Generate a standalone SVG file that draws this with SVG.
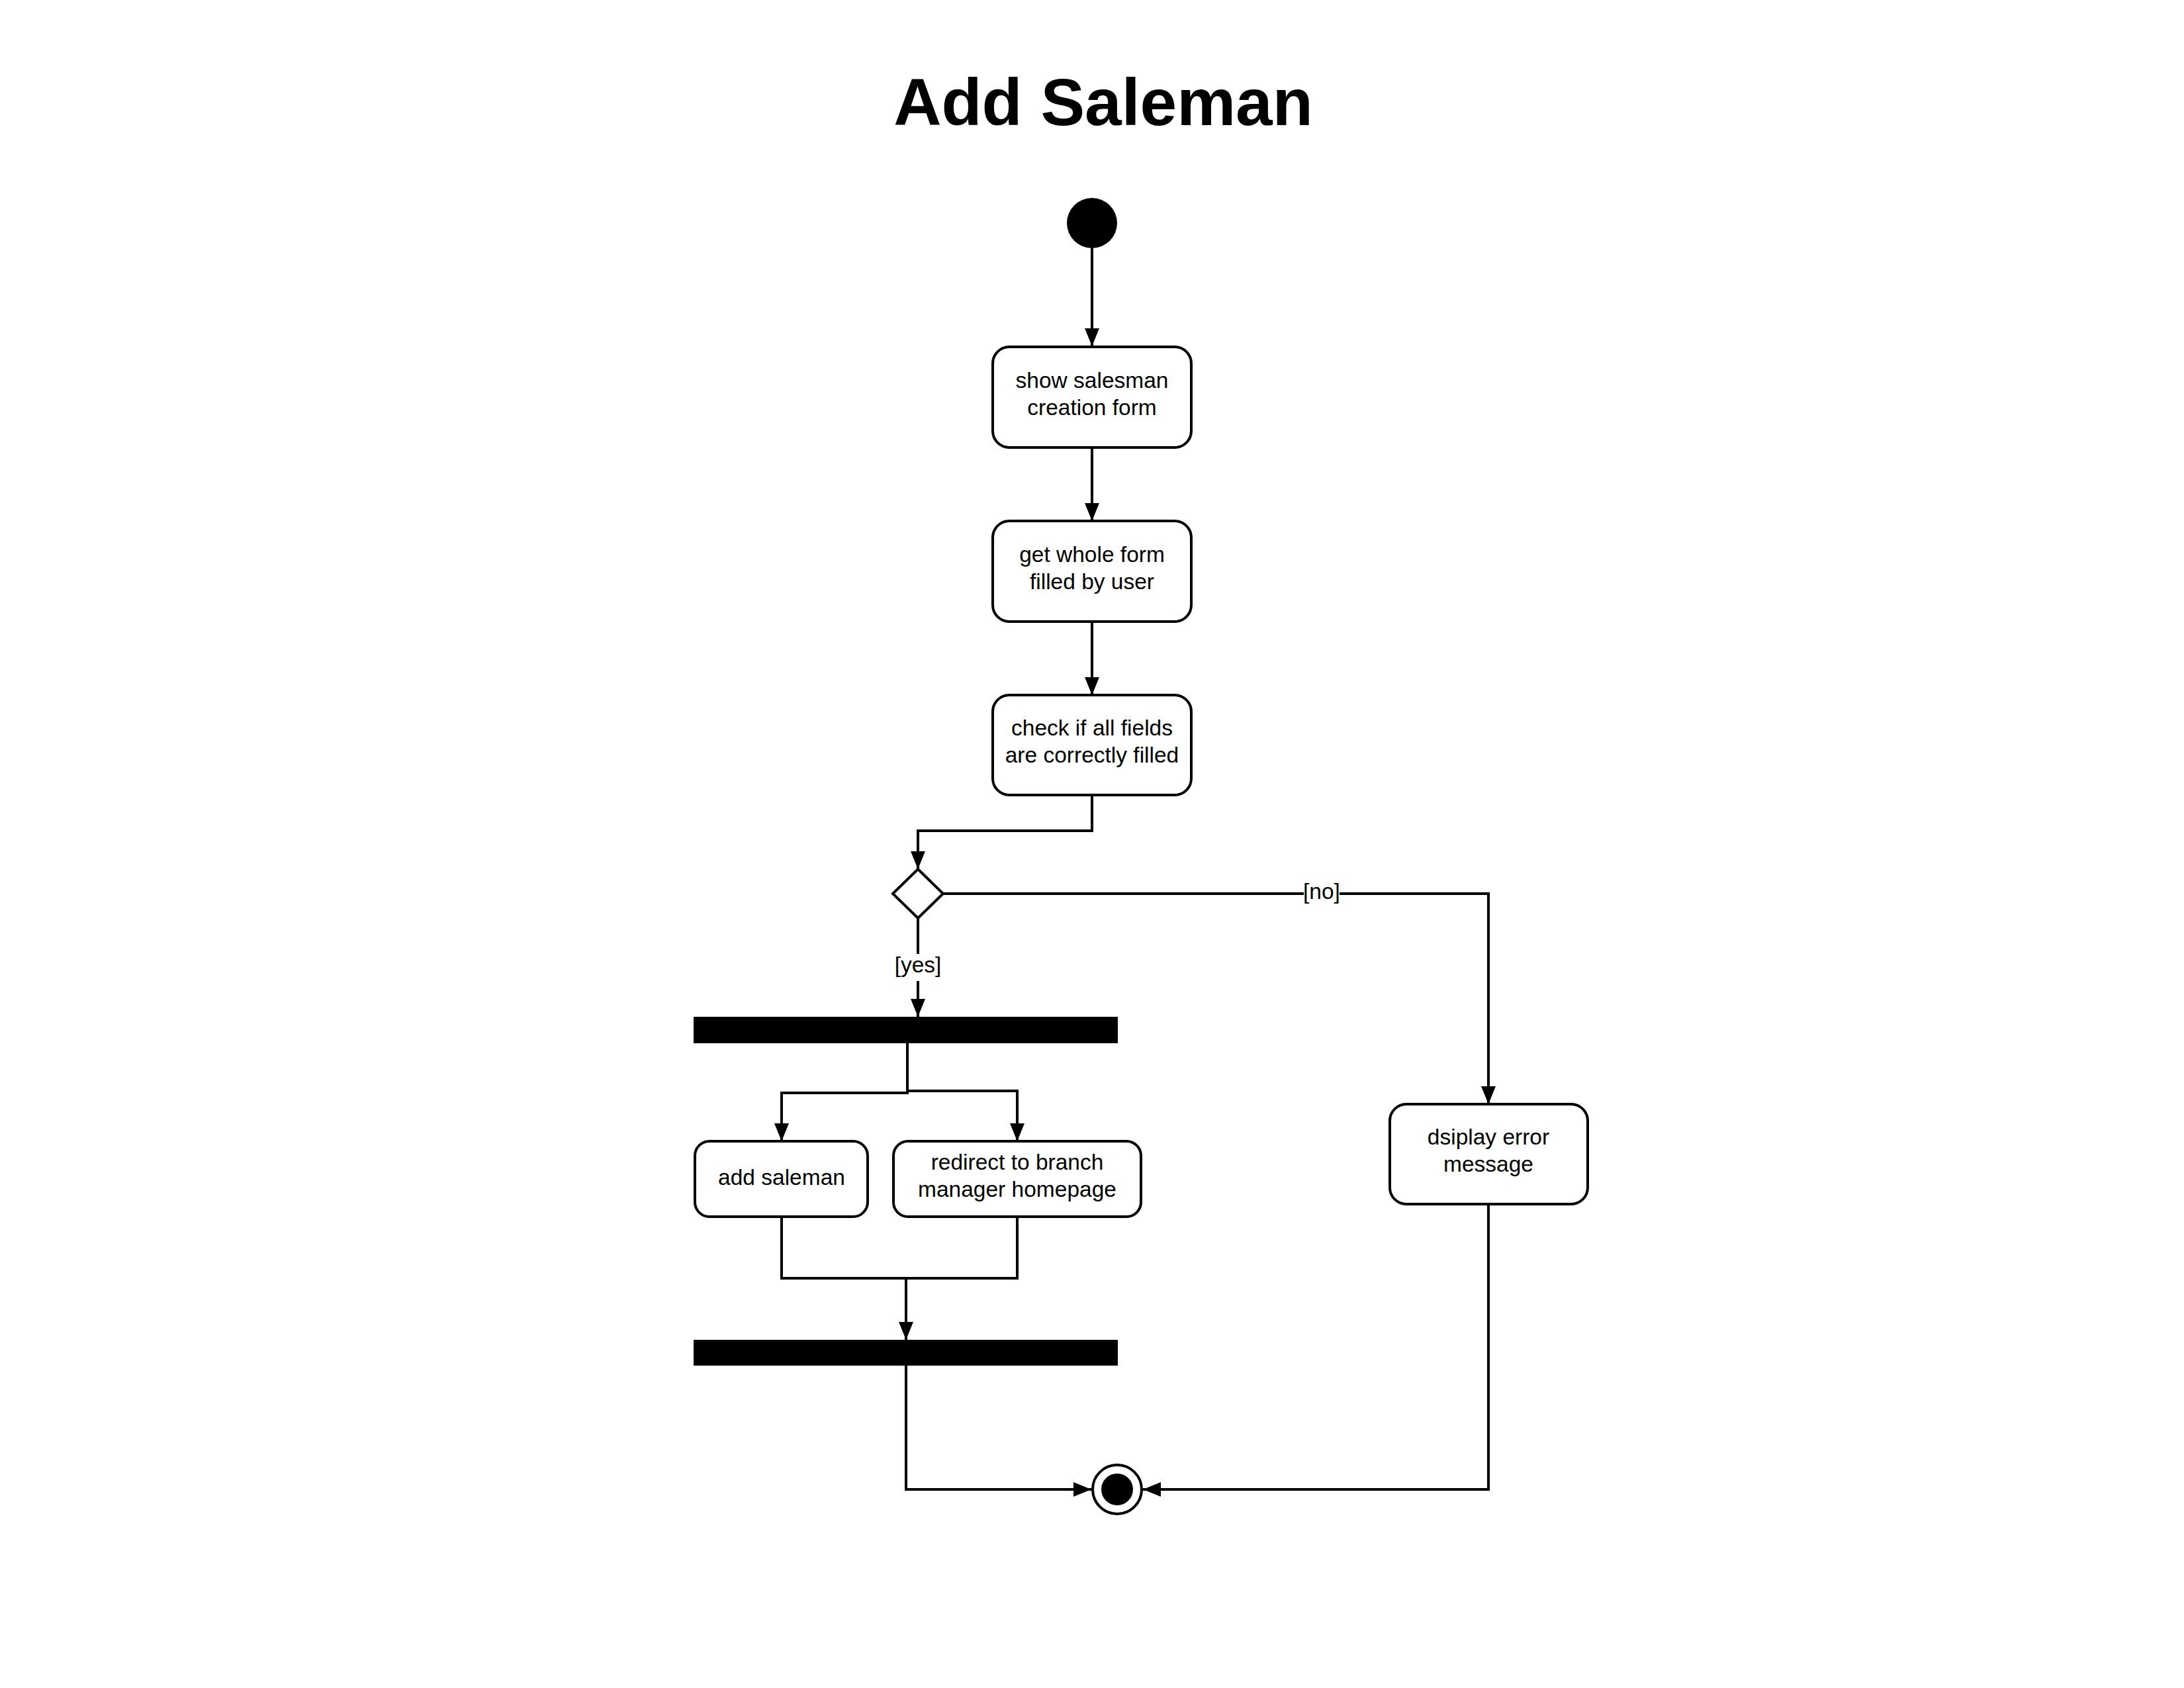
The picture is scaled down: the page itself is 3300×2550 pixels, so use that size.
<svg xmlns="http://www.w3.org/2000/svg" width="3300" height="2550" viewBox="0 0 3300 2550">
<defs>
<style>
.box{fill:#fff;stroke:#000;stroke-width:4}
.lbl{font-family:"Liberation Sans",Arial,sans-serif;font-size:33.5px;fill:#000;text-anchor:middle}
.edge{fill:none;stroke:#000;stroke-width:4}
.bar{fill:#000}
.title{font-family:"Liberation Sans",Arial,sans-serif;font-size:100px;font-weight:bold;fill:#000;text-anchor:middle}
</style>
<marker id="arr" markerUnits="userSpaceOnUse" markerWidth="28" markerHeight="22" refX="27" refY="11" orient="auto">
<path d="M0,0 L27,11 L0,22 z" fill="#000"/>
</marker>
</defs>
<rect width="3300" height="2550" fill="#fff"/>
<text class="title" x="1667" y="189">Add Saleman</text>

<g id="connectors">
<path class="edge" d="M1650,375 L1650,523" marker-end="url(#arr)"/>
<path class="edge" d="M1650,676 L1650,787" marker-end="url(#arr)"/>
<path class="edge" d="M1650,939 L1650,1050" marker-end="url(#arr)"/>
<path class="edge" d="M1650,1201 L1650,1255 L1387,1255 L1387,1313" marker-end="url(#arr)"/>
<path class="edge" d="M1387,1387 L1387,1536" marker-end="url(#arr)"/>
<path class="edge" d="M1425,1350 L2249,1350 L2249,1668" marker-end="url(#arr)"/>
<path class="edge" d="M1371,1576 L1371,1651 L1181,1651 L1181,1724" marker-end="url(#arr)"/>
<path class="edge" d="M1371,1648 L1537,1648 L1537,1724" marker-end="url(#arr)"/>
<path class="edge" d="M1181,1838 L1181,1931 L1369,1931 L1369,2024" marker-end="url(#arr)"/>
<path class="edge" d="M1537,1838 L1537,1931 L1369,1931"/>
<path class="edge" d="M1369,2063 L1369,2250 L1649,2250" marker-end="url(#arr)"/>
<path class="edge" d="M2249,1819 L2249,2250 L1727,2250" marker-end="url(#arr)"/>
<rect x="1360" y="1441" width="54" height="41" fill="#fff"/>
<text class="lbl" x="1387" y="1469">[yes]</text>
<rect x="1970" y="1328" width="54" height="40" fill="#fff"/>
<text class="lbl" x="1997" y="1358">[no]</text>
</g>

<g id="start"><circle cx="1650" cy="337" r="38" fill="#000"/></g>

<g id="show-form">
<rect class="box" x="1500" y="524" width="300" height="152" rx="25"/>
<text class="lbl" x="1650" y="586">show salesman</text>
<text class="lbl" x="1650" y="627">creation form</text>
</g>

<g id="get-form">
<rect class="box" x="1500" y="787" width="300" height="152" rx="25"/>
<text class="lbl" x="1650" y="849">get whole form</text>
<text class="lbl" x="1650" y="890">filled by user</text>
</g>

<g id="check-fields">
<rect class="box" x="1500" y="1050" width="300" height="151" rx="25"/>
<text class="lbl" x="1650" y="1111">check if all fields</text>
<text class="lbl" x="1650" y="1152">are correctly filled</text>
</g>

<g id="decision">
<path class="box" d="M1387,1313 L1425,1350 L1387,1387 L1349,1350 z"/>
</g>

<g id="fork"><rect class="bar" x="1048" y="1536" width="641" height="40"/></g>

<g id="add-saleman">
<rect class="box" x="1050" y="1724" width="261" height="114" rx="22"/>
<text class="lbl" x="1181" y="1790">add saleman</text>
</g>

<g id="redirect">
<rect class="box" x="1350" y="1724" width="374" height="114" rx="22"/>
<text class="lbl" x="1537" y="1767">redirect to branch</text>
<text class="lbl" x="1537" y="1808">manager homepage</text>
</g>

<g id="error">
<rect class="box" x="2100" y="1668" width="299" height="151" rx="25"/>
<text class="lbl" x="2249" y="1729">dsiplay error</text>
<text class="lbl" x="2249" y="1770">message</text>
</g>

<g id="join"><rect class="bar" x="1048" y="2024" width="641" height="39"/></g>

<g id="end">
<circle cx="1688" cy="2250" r="37" fill="#fff" stroke="#000" stroke-width="4"/>
<circle cx="1688" cy="2250" r="24" fill="#000"/>
</g>
</svg>
